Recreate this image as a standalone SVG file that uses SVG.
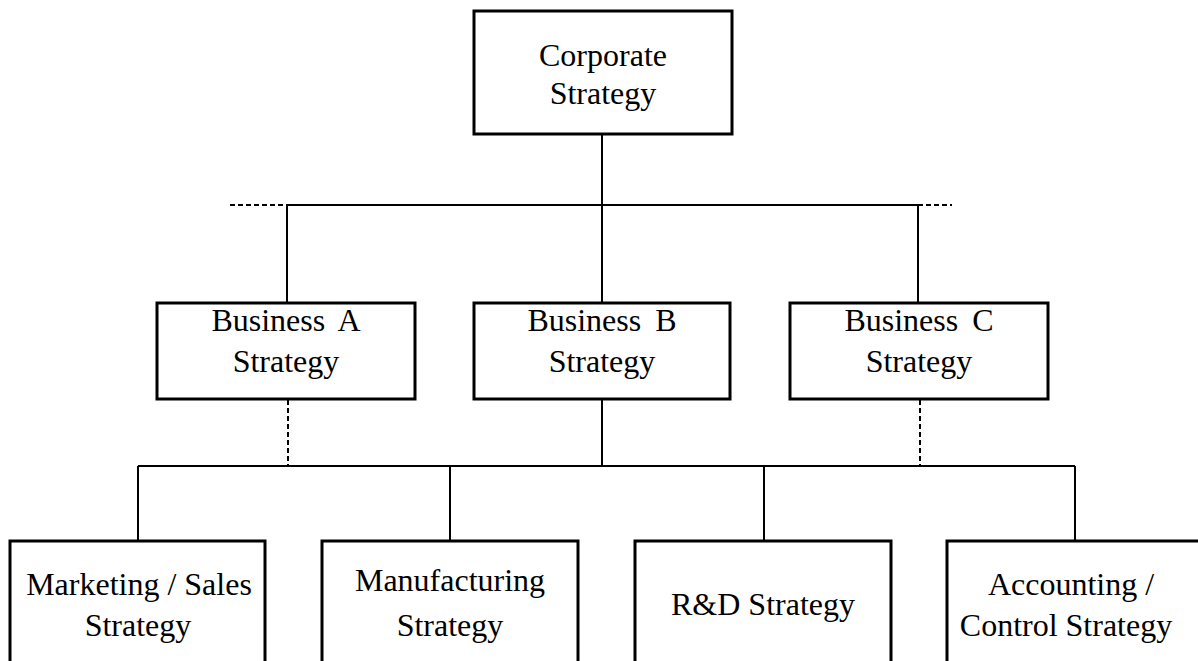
<svg xmlns="http://www.w3.org/2000/svg" width="1198" height="661" viewBox="0 0 1198 661">
  <style>
    .box { fill: #ffffff; stroke: #000000; stroke-width: 3; }
    .lbl { font-family: "Liberation Serif", "Times New Roman", serif; font-size: 32px; fill: #000000; text-anchor: middle; }
    .ln { stroke: #000000; stroke-width: 2; fill: none; }
    .dash { stroke: #000000; stroke-width: 2; fill: none; stroke-dasharray: 5 3; }
  </style>
  <rect width="1198" height="661" fill="#ffffff"/>

  <g id="connectors">
    <!-- corporate to business level -->
    <line class="ln" x1="602" y1="134" x2="602" y2="205"/>
    <line class="ln" x1="287" y1="205" x2="918" y2="205"/>
    <line class="dash" x1="230" y1="205" x2="287" y2="205"/>
    <line class="dash" x1="918" y1="205" x2="952" y2="205"/>
    <line class="ln" x1="287" y1="205" x2="287" y2="303"/>
    <line class="ln" x1="602" y1="205" x2="602" y2="303"/>
    <line class="ln" x1="918" y1="205" x2="918" y2="303"/>
    <!-- business level to functional level -->
    <line class="dash" x1="288" y1="400" x2="288" y2="466"/>
    <line class="ln" x1="602" y1="400" x2="602" y2="466"/>
    <line class="dash" x1="920" y1="400" x2="920" y2="466"/>
    <line class="ln" x1="138" y1="466" x2="1075" y2="466"/>
    <line class="ln" x1="138" y1="466" x2="138" y2="541"/>
    <line class="ln" x1="450" y1="466" x2="450" y2="541"/>
    <line class="ln" x1="764" y1="466" x2="764" y2="541"/>
    <line class="ln" x1="1075" y1="466" x2="1075" y2="541"/>
  </g>

  <g id="corporate">
    <rect class="box" x="474" y="11" width="258" height="123"/>
    <text class="lbl" x="603" y="66">Corporate</text>
    <text class="lbl" x="603" y="104">Strategy</text>
  </g>

  <g id="business-a">
    <rect class="box" x="157" y="303" width="258" height="96"/>
    <text class="lbl" x="286" y="331" word-spacing="6">Business A</text>
    <text class="lbl" x="286" y="372">Strategy</text>
  </g>

  <g id="business-b">
    <rect class="box" x="474" y="303" width="256" height="96"/>
    <text class="lbl" x="602" y="331" word-spacing="6">Business B</text>
    <text class="lbl" x="602" y="372">Strategy</text>
  </g>

  <g id="business-c">
    <rect class="box" x="790" y="303" width="258" height="96"/>
    <text class="lbl" x="919" y="331" word-spacing="6">Business C</text>
    <text class="lbl" x="919" y="372">Strategy</text>
  </g>

  <g id="marketing">
    <rect class="box" x="10" y="541" width="255" height="140"/>
    <text class="lbl" x="139" y="595">Marketing / Sales</text>
    <text class="lbl" x="138" y="636">Strategy</text>
  </g>

  <g id="manufacturing">
    <rect class="box" x="322" y="541" width="256" height="140"/>
    <text class="lbl" x="450" y="591">Manufacturing</text>
    <text class="lbl" x="450" y="636">Strategy</text>
  </g>

  <g id="rnd">
    <rect class="box" x="635" y="541" width="256" height="140"/>
    <text class="lbl" x="763" y="615">R&amp;D Strategy</text>
  </g>

  <g id="accounting">
    <rect class="box" x="947" y="541" width="260" height="140"/>
    <text class="lbl" x="1071" y="595">Accounting /</text>
    <text class="lbl" x="1066" y="636" font-size="33">Control Strategy</text>
  </g>
</svg>
